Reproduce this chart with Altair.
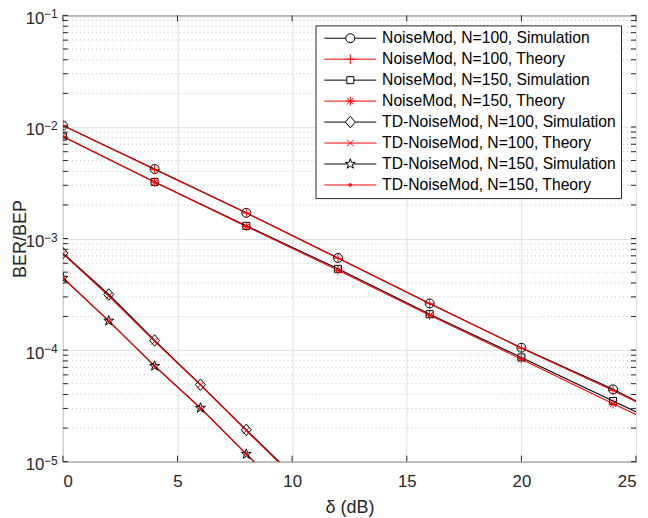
import math
import altair as alt
import pandas as pd

# ---------------- data ----------------
series = [
    "NoiseMod, N=100, Simulation",
    "NoiseMod, N=100, Theory",
    "NoiseMod, N=150, Simulation",
    "NoiseMod, N=150, Theory",
    "TD-NoiseMod, N=100, Simulation",
    "TD-NoiseMod, N=100, Theory",
    "TD-NoiseMod, N=150, Simulation",
    "TD-NoiseMod, N=150, Theory",
]
colors = ["#000000", "#ff0000", "#000000", "#ff0000",
          "#000000", "#ff0000", "#000000", "#ff0000"]

nm_x = [0, 4, 8, 12, 16, 20, 24]
nm100_sim = [1.03e-2, 4.2e-3, 1.70e-3, 6.7e-4, 2.62e-4, 1.05e-4, 4.45e-5]
nm100_th = [1.03e-2, 4.15e-3, 1.69e-3, 6.65e-4, 2.60e-4, 1.04e-4, 4.35e-5]
nm150_sim = [8.2e-3, 3.22e-3, 1.30e-3, 5.35e-4, 2.10e-4, 8.6e-5, 3.5e-5]
nm150_th = [8.2e-3, 3.20e-3, 1.28e-3, 5.20e-4, 2.05e-4, 8.3e-5, 3.3e-5]
nm_end_x = 25
nm_end = [3.5e-5, 3.45e-5, 2.8e-5, 2.65e-5]

td_x = [0, 2, 4, 6, 8]
td100_sim = [7.4e-4, 3.15e-4, 1.22e-4, 4.9e-5, 1.93e-5]
td100_th = [7.3e-4, 3.05e-4, 1.20e-4, 4.85e-5, 1.90e-5]
td150_sim = [4.43e-4, 1.83e-4, 7.2e-5, 3.03e-5, 1.17e-5]
td150_th = [4.45e-4, 1.82e-4, 7.2e-5, 3.00e-5, 1.17e-5]
td_end_x = 10
td_end = [7.7e-6, 7.5e-6, 4.6e-6, 4.6e-6]

x_ticks = [0, 5, 10, 15, 20, 25]
y_ticks = [1e-5, 1e-4, 1e-3, 1e-2, 1e-1]
y_tick_base = "10"
y_tick_exp = ["−5", "−4", "−3", "−2", "−1"]
y_minor = [k * 10.0 ** e for e in range(-5, -1) for k in range(2, 10)]

# ---------------- tables ----------------
rows = []
def add(name, xs, ys, xend, yend):
    for xv, yv in zip(xs, ys):
        rows.append(dict(series=name, x=xv, y=yv, marker=True))
    rows.append(dict(series=name, x=xend, y=yend, marker=False))

add(series[0], nm_x, nm100_sim, nm_end_x, nm_end[0])
add(series[1], nm_x, nm100_th, nm_end_x, nm_end[1])
add(series[2], nm_x, nm150_sim, nm_end_x, nm_end[2])
add(series[3], nm_x, nm150_th, nm_end_x, nm_end[3])
add(series[4], td_x, td100_sim, td_end_x, td_end[0])
add(series[5], td_x, td100_th, td_end_x, td_end[1])
add(series[6], td_x, td150_sim, td_end_x, td_end[2])
add(series[7], td_x, td150_th, td_end_x, td_end[3])
df = pd.DataFrame(rows)

# legend-only rows sit below the visible y range and are clipped away
legend_df = pd.DataFrame({"series": series, "x": [0] * len(series), "y": [1e-9] * len(series)})
minor_df = pd.DataFrame({"y": y_minor})
ytick_df = pd.DataFrame({"y": y_ticks + y_minor})
xtick_df = pd.DataFrame({"x": x_ticks})
exp_df = pd.DataFrame({"y": y_ticks, "t": y_tick_exp})

# ---------------- marker shapes ----------------
def circ(r):
    return f"M{r} 0A{r} {r} 0 1 1 {-r} 0A{r} {r} 0 1 1 {r} 0Z"

def star(R, r):
    pts = []
    for i in range(10):
        ang = -math.pi / 2 + i * math.pi / 5
        rad = R if i % 2 == 0 else r
        pts.append(f"{rad * math.cos(ang):.3f} {rad * math.sin(ang):.3f}")
    return "M" + "L".join(pts) + "Z"

marker_paths = [
    circ(0.9),
    "M-0.95 0H0.95M0 -0.95V0.95",
    "M-0.7 -0.7H0.7V0.7H-0.7Z",
    "M-0.9 0H0.9M0 -0.9V0.9M-0.64 -0.64L0.64 0.64M-0.64 0.64L0.64 -0.64",
    "M0 -1.15L1 0L0 1.15L-1 0Z",
    "M-0.65 -0.65L0.65 0.65M-0.65 0.65L0.65 -0.65",
    star(1.05, 0.42),
    circ(0.3) + circ(0.12),
]
gaps = [0.9, 0, 0.7, 0, 1.0, 0, 0.6, 0]
L = 5.2
legend_paths = []
for p, g in zip(marker_paths, gaps):
    if g > 0:
        legend_paths.append(f"M{-L} 0H{-g}M{g} 0H{L}" + p)
    else:
        legend_paths.append(f"M{-L} 0H{L}" + p)

# ---------------- encodings ----------------
W, H = 574, 447
FONT = "Liberation Sans"
AX = "#262626"

x_enc = alt.X("x:Q", scale=alt.Scale(domain=[0, 25], nice=False),
              axis=alt.Axis(values=x_ticks, title="δ (dB)", format="d", grid=True,
                            gridColor="#dedede", ticks=False, domain=False,
                            labelFont=FONT, labelFontSize=16.8, labelColor=AX,
                            labelPadding=12, titleFont=FONT, titleFontSize=18,
                            titleFontWeight="normal", titleColor=AX,
                            titleBaseline="alphabetic", titleY=51))
y_enc = alt.Y("y:Q", scale=alt.Scale(type="log", domain=[1e-5, 1e-1], nice=False),
              axis=alt.Axis(values=y_ticks, title="BER/BEP", labelExpr=f"'{y_tick_base}'",
                            grid=True, gridColor="#dedede", ticks=False, domain=False,
                            labelFont=FONT, labelFontSize=16.8, labelColor=AX,
                            labelPadding=19, labelOffset=3, titleFont=FONT,
                            titleFontSize=18, titleFontWeight="normal", titleColor=AX,
                            titleBaseline="alphabetic", titleX=-37))

def color_enc(legend):
    return alt.Color("series:N", scale=alt.Scale(domain=series, range=colors),
                     sort=series, legend=legend)

leg = alt.Legend(title=None, orient="none", legendX=253, legendY=10,
                 symbolSize=100, symbolStrokeWidth=1, symbolOffset=22,
                 labelOffset=24, labelFont=FONT, labelFontSize=15.7,
                 labelColor="black", labelLimit=400, fillColor="white",
                 strokeColor=AX, padding=5, rowPadding=4, cornerRadius=0)

minor_grid = alt.Chart(minor_df).mark_rule(
    color="#c4c4c4", strokeWidth=1, strokeDash=[1, 3]
).encode(y=y_enc)

lines = alt.Chart(df).mark_line(strokeWidth=1.1, clip=True).encode(
    x=x_enc, y=y_enc, color=color_enc(None), order=alt.Order("x:Q"))

points = alt.Chart(df).transform_filter("datum.marker").mark_point(
    filled=False, size=100, strokeWidth=1, opacity=1, clip=True
).encode(
    x=x_enc, y=y_enc, color=color_enc(None),
    shape=alt.Shape("series:N", scale=alt.Scale(domain=series, range=marker_paths),
                    sort=series, legend=None))

legend_layer = alt.Chart(legend_df).mark_point(
    filled=False, size=100, strokeWidth=1, opacity=1, clip=True
).encode(
    x=x_enc, y=y_enc, color=color_enc(leg),
    shape=alt.Shape("series:N", scale=alt.Scale(domain=series, range=legend_paths),
                    sort=series, legend=leg))

exponents = alt.Chart(exp_df).mark_text(
    align="left", baseline="alphabetic", font=FONT, fontSize=12, color=AX, dy=3
).encode(y=y_enc, x=alt.value(-19), text="t:N")

tick_l = alt.Chart(ytick_df).mark_rule(color=AX, strokeWidth=1).encode(
    y=y_enc, x=alt.value(0), x2=alt.value(5))
tick_r = alt.Chart(ytick_df).mark_rule(color=AX, strokeWidth=1).encode(
    y=y_enc, x=alt.value(W), x2=alt.value(W - 5))
tick_b = alt.Chart(xtick_df).mark_rule(color=AX, strokeWidth=1).encode(
    x=x_enc, y=alt.value(H), y2=alt.value(H - 6))
tick_t = alt.Chart(xtick_df).mark_rule(color=AX, strokeWidth=1).encode(
    x=x_enc, y=alt.value(0), y2=alt.value(6))

chart = alt.layer(
    minor_grid, lines, points, legend_layer, exponents, tick_l, tick_r, tick_b, tick_t
).resolve_scale(
    color="independent", shape="independent"
).properties(
    width=W, height=H,
    autosize=alt.AutoSizeParams(type="none"),
    padding={"left": 55, "top": 7, "right": 4, "bottom": 56},
    background="white",
).configure_view(stroke=AX, strokeWidth=1)

chart.save("out.html", embed_options={"renderer": "svg", "actions": False})
